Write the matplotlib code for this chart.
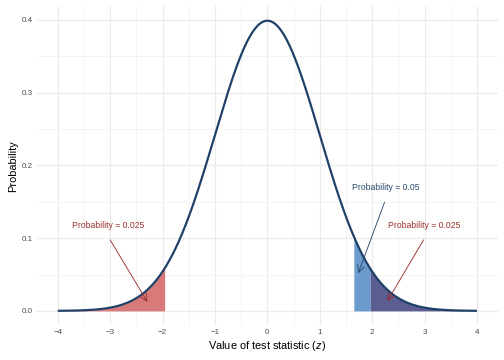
import numpy as np
import matplotlib
matplotlib.use("Agg")
import matplotlib.pyplot as plt
from matplotlib.ticker import MultipleLocator

plt.rcParams["font.family"] = ["Liberation Sans", "DejaVu Sans"]
plt.rcParams["mathtext.fontset"] = "custom"
plt.rcParams["mathtext.it"] = "Liberation Sans:italic"

# model and cut-offs shown in the chart
z_min, z_max = -4, 4
mu, sd = 0, 1
z_lower_two = -1.96
z_upper_two = 1.96
z_upper_one = 1.645

# annotations: label, text position, arrow tip, colour
ann_labels = ["Probability = 0.025", "Probability = 0.05", "Probability = 0.025"]
ann_text_xy = [(-3.03, 0.118), (2.25, 0.169), (3.0, 0.118)]
ann_arrow_from = [(-3.02, 0.100), (2.25, 0.152), (3.0, 0.100)]
ann_arrow_to = [(-2.27, 0.010), (1.72, 0.049), (2.27, 0.011)]
ann_colors = ["#9b2f2f", "#2b4a6e", "#9b2f2f"]

z = np.linspace(z_min, z_max, 801)
dens = np.exp(-0.5 * ((z - mu) / sd) ** 2) / (sd * np.sqrt(2 * np.pi))

fig = plt.figure(figsize=(7, 5), dpi=72)
ax = fig.add_axes([0.073, 0.096, 0.915, 0.887])

m = z <= z_lower_two
ax.fill_between(z[m], 0, dens[m], color="#d87a7a", lw=0)
m = (z >= z_upper_one) & (z <= z_upper_two)
ax.fill_between(z[m], 0, dens[m], color="#6c9bcf", lw=0)
m = z >= z_upper_two
ax.fill_between(z[m], 0, dens[m], color="#5c5d92", lw=0)
ax.plot(z, dens, color="#1f4068", lw=2.2, solid_capstyle="butt")

for lab, txy, a0, a1, c in zip(ann_labels, ann_text_xy, ann_arrow_from, ann_arrow_to, ann_colors):
    ax.text(txy[0], txy[1], lab, color=c, fontsize=8.6, ha="center", va="center")
    ax.annotate("", xy=a1, xytext=a0,
                arrowprops=dict(arrowstyle="->", color=c, lw=0.9, mutation_scale=18))

ax.set_xlim(-4.4, 4.4)
ax.set_ylim(-0.02, 0.419)
ax.xaxis.set_major_locator(MultipleLocator(1))
ax.xaxis.set_minor_locator(MultipleLocator(0.5))
ax.yaxis.set_major_locator(MultipleLocator(0.1))
ax.yaxis.set_minor_locator(MultipleLocator(0.05))
ax.set_yticks([0, 0.1, 0.2, 0.3, 0.4])
ax.set_yticklabels(["0.0", "0.1", "0.2", "0.3", "0.4"])
ax.grid(which="major", color="#ebebeb", lw=1.1)
ax.grid(which="minor", color="#ebebeb", lw=0.55)
ax.set_axisbelow(True)
for s in ax.spines.values():
    s.set_visible(False)
ax.tick_params(which="both", length=0, labelsize=8, labelcolor="#4d4d4d", pad=4)
ax.set_xlabel("Value of test statistic ($z$)", fontsize=11, labelpad=3)
ax.set_ylabel("Probability", fontsize=11, labelpad=4)

fig.savefig("out.png", dpi=72)
